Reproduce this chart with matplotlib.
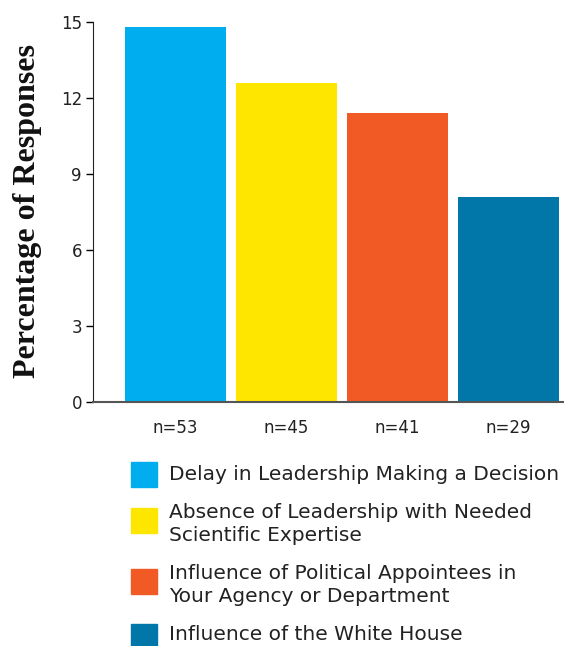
import numpy as np
import matplotlib.pyplot as plt
from matplotlib.patches import Rectangle

plt.rcParams['font.family'] = ['DejaVu Sans']

## values
categories = ["Delay in Leadership Making a Decision",
              "Absence of Leadership with Needed\nScientific Expertise",
              "Influence of Political Appointees in\nYour Agency or Department",
              "Influence of the White House"]
percent = [14.8, 12.6, 11.4, 8.1]
n_labels = ["n=53", "n=45", "n=41", "n=29"]
colors = ["#00AEEF", "#FFE600", "#F15A24", "#0077A8"]
yticks = [0, 3, 6, 9, 12, 15]

W, H = 564, 646
fig = plt.figure(figsize=(W/100, H/100), dpi=100)
ax = fig.add_axes([93/W, 1-402/H, (W-93)/W, 380/H])

x = np.arange(len(percent))
ax.bar(x, percent, width=0.91, color=colors)
ax.set_xlim(-0.743, 3.5)
ax.set_ylim(0, 15)
ax.set_yticks(yticks)
ax.set_xticks(x)
ax.set_xticklabels(n_labels, fontsize=12, color="#222222")
ax.tick_params(axis='x', length=0, pad=12)
ax.tick_params(axis='y', length=5, width=1, labelsize=12, labelcolor="#222222", pad=3)
for s in ['top', 'right']:
    ax.spines[s].set_visible(False)
ax.spines['left'].set_color("#222222")
ax.spines['bottom'].set_color("#555555")
ax.spines['bottom'].set_linewidth(1.5)

fig.text(28/W, 1-211/H, "Percentage of Responses", rotation=90, ha='center', va='center',
         family="Liberation Serif", fontweight='bold', fontsize=23, color="#111111")

## legend drawn by hand, rows as in the reference
sq_top = [462, 508, 569, 624]
txt_y = [475, 524, 585, 635]
for i in range(len(categories)):
    fig.patches.append(Rectangle((131/W, 1-(sq_top[i]+25)/H), 26/W, 25/H,
                                 transform=fig.transFigure, color=colors[i]))
    fig.text(169/W, 1-txt_y[i]/H, categories[i], ha='left', va='center',
             fontsize=14.5, color="#222222", linespacing=1.28)

fig.savefig("out.png", dpi=100)
